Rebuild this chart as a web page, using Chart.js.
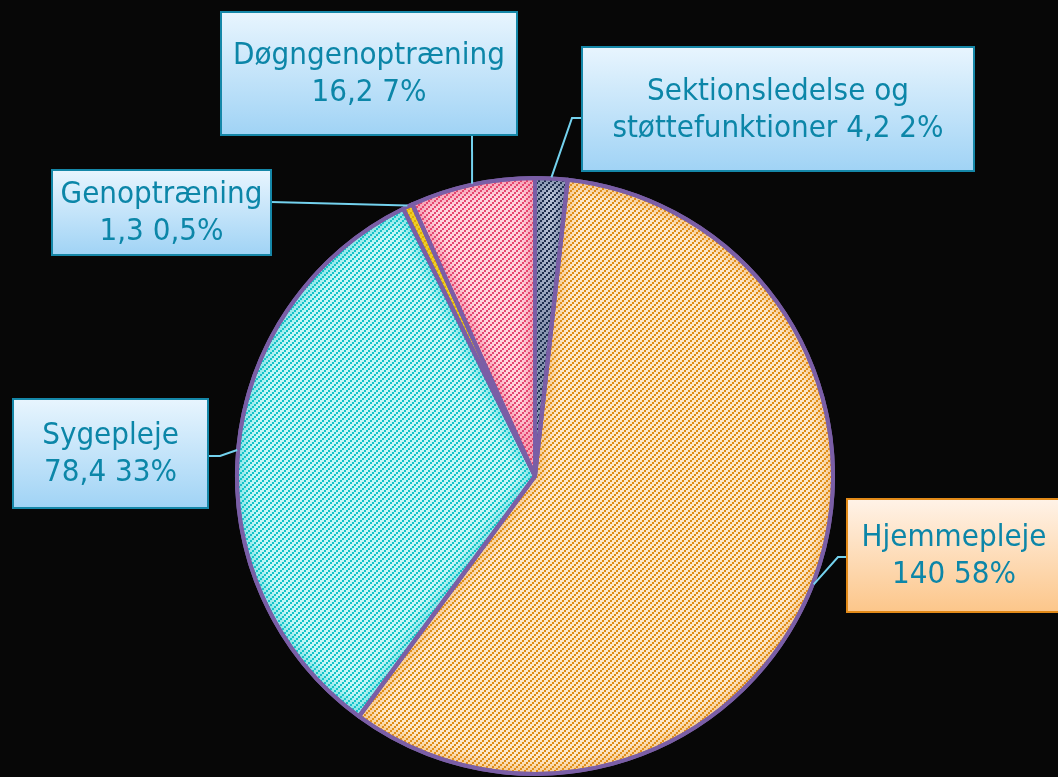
<!DOCTYPE html>
<html><head><meta charset="utf-8">
<script src="https://cdn.jsdelivr.net/npm/chart.js@4/dist/chart.umd.min.js"></script>
<style>html,body{margin:0;padding:0;background:#070707;overflow:hidden}#wrap{width:1058px;height:777px;position:relative}</style>
</head><body><div id="wrap"><canvas id="c" width="1058" height="777"></canvas></div>
<script>
// ---- data ----
const categories = ['Sektionsledelse og støttefunktioner', 'Hjemmepleje', 'Sygepleje', 'Genoptræning', 'Døgngenoptræning'];
const values = [4.2, 140, 78.4, 1.3, 16.2];
const percentLabels = ['2%', '58%', '33%', '0,5%', '7%'];

// ---- styles ----
const sliceBg = ['#bcc6da', '#fde9cc', '#c8f7f7', '#f8dc3c', '#ffd4de'];
const sliceStripe = ['#1c2a48', '#de8c14', '#14c4c8', '#e2b000', '#e6466e'];
const sliceGlow = ['rgba(40,60,100,0.35)', 'rgba(236,150,40,0.35)', 'rgba(20,196,200,0.35)', 'rgba(220,170,0,0.3)', 'rgba(230,70,110,0.35)'];
const boxes = [
  {x: 582, y: 47, w: 392, h: 124, attach: [582, 118], elbow: [572, 118], warm: false},
  {x: 847, y: 499, w: 214, h: 113, attach: [847, 557], elbow: [838, 557], warm: true},
  {x: 13, y: 399, w: 195, h: 109, attach: [208, 456], elbow: [220, 456], warm: false},
  {x: 52, y: 170, w: 219, h: 85, attach: [271, 202], elbow: null, warm: false},
  {x: 221, y: 12, w: 296, h: 123, attach: [472, 135], elbow: null, warm: false}
];
const BORDER = '#7a5ea6';

function makePattern(bg, fg) {
  const c = document.createElement('canvas');
  c.width = 6; c.height = 6;
  const g = c.getContext('2d');
  g.fillStyle = bg; g.fillRect(0, 0, 6, 6);
  g.fillStyle = fg;
  g.fillRect(0, 4, 2, 2); g.fillRect(2, 2, 2, 2); g.fillRect(4, 0, 2, 2);
  return document.getElementById('c').getContext('2d').createPattern(c, 'repeat');
}
const patterns = sliceBg.map((b, i) => makePattern(b, sliceStripe[i]));

function fmt(v) { return String(v).replace('.', ','); }

const FONT = '31px "DejaVu Sans Condensed", "DejaVu Sans", sans-serif';

function wrap(ctx, text, maxW) {
  const words = text.split(' ');
  const lines = [];
  let cur = '';
  for (const w of words) {
    const t = cur ? cur + ' ' + w : w;
    if (ctx.measureText(t).width > maxW && cur) { lines.push(cur); cur = w; }
    else cur = t;
  }
  if (cur) lines.push(cur);
  return lines;
}

function arcPath(ctx, a) {
  ctx.beginPath();
  ctx.moveTo(a.x, a.y);
  ctx.arc(a.x, a.y, a.outerRadius, a.startAngle, a.endAngle);
  ctx.closePath();
}

const bgPlugin = {
  id: 'bg',
  beforeDraw(chart) {
    const ctx = chart.ctx;
    ctx.save();
    ctx.fillStyle = '#070707';
    ctx.fillRect(0, 0, chart.width, chart.height);
    ctx.restore();
  }
};

const glowPlugin = {
  id: 'glow',
  afterDatasetsDraw(chart) {
    const ctx = chart.ctx;
    const meta = chart.getDatasetMeta(0);
    meta.data.forEach((a, i) => {
      ctx.save();
      arcPath(ctx, a);
      ctx.clip();
      ctx.filter = 'blur(5px)';
      ctx.strokeStyle = sliceGlow[i];
      ctx.lineWidth = 16;
      arcPath(ctx, a);
      ctx.stroke();
      ctx.restore();
    });
    ctx.save();
    ctx.strokeStyle = BORDER;
    ctx.lineWidth = 4;
    ctx.lineJoin = 'round';
    meta.data.forEach(a => { arcPath(ctx, a); ctx.stroke(); });
    ctx.restore();
  }
};

const calloutPlugin = {
  id: 'callouts',
  afterDatasetsDraw(chart) {
    const ctx = chart.ctx;
    const meta = chart.getDatasetMeta(0);
    ctx.save();
    meta.data.forEach((arc, i) => {
      const b = boxes[i];
      const mid = (arc.startAngle + arc.endAngle) / 2;
      const px = arc.x + Math.cos(mid) * (arc.outerRadius + 1);
      const py = arc.y + Math.sin(mid) * (arc.outerRadius + 1);
      ctx.strokeStyle = '#74d2ee';
      ctx.lineWidth = 2;
      ctx.beginPath();
      ctx.moveTo(px, py);
      if (b.elbow) ctx.lineTo(b.elbow[0], b.elbow[1]);
      ctx.lineTo(b.attach[0], b.attach[1]);
      ctx.stroke();
      const grd = ctx.createLinearGradient(0, b.y, 0, b.y + b.h);
      if (b.warm) { grd.addColorStop(0, '#fff3e8'); grd.addColorStop(1, '#fcc68a'); }
      else { grd.addColorStop(0, '#e8f5fe'); grd.addColorStop(1, '#a0d3f5'); }
      ctx.fillStyle = grd;
      ctx.fillRect(b.x, b.y, b.w, b.h);
      ctx.strokeStyle = b.warm ? '#e28a18' : '#1587a8';
      ctx.lineWidth = 2;
      ctx.strokeRect(b.x, b.y, b.w, b.h);
      ctx.font = FONT;
      ctx.fillStyle = '#0c86a8';
      ctx.textAlign = 'center';
      ctx.textBaseline = 'middle';
      const text = categories[i] + ' ' + fmt(values[i]) + ' ' + percentLabels[i];
      const lines = wrap(ctx, text, b.w - 16);
      const lh = 37;
      const cy = b.y + b.h / 2 + 1;
      lines.forEach((ln, k) => {
        ctx.fillText(ln, b.x + b.w / 2, cy + (k - (lines.length - 1) / 2) * lh);
      });
    });
    ctx.restore();
  }
};

new Chart(document.getElementById('c'), {
  type: 'pie',
  data: {
    labels: categories,
    datasets: [{
      data: values,
      backgroundColor: patterns,
      borderColor: BORDER,
      borderWidth: 4,
      hoverOffset: 0
    }]
  },
  options: {
    responsive: false,
    animation: false,
    events: [],
    layout: {padding: {left: 235, right: 223, top: 175, bottom: 0}},
    plugins: {legend: {display: false}, tooltip: {enabled: false}}
  },
  plugins: [bgPlugin, glowPlugin, calloutPlugin]
});
</script>
</body></html>
